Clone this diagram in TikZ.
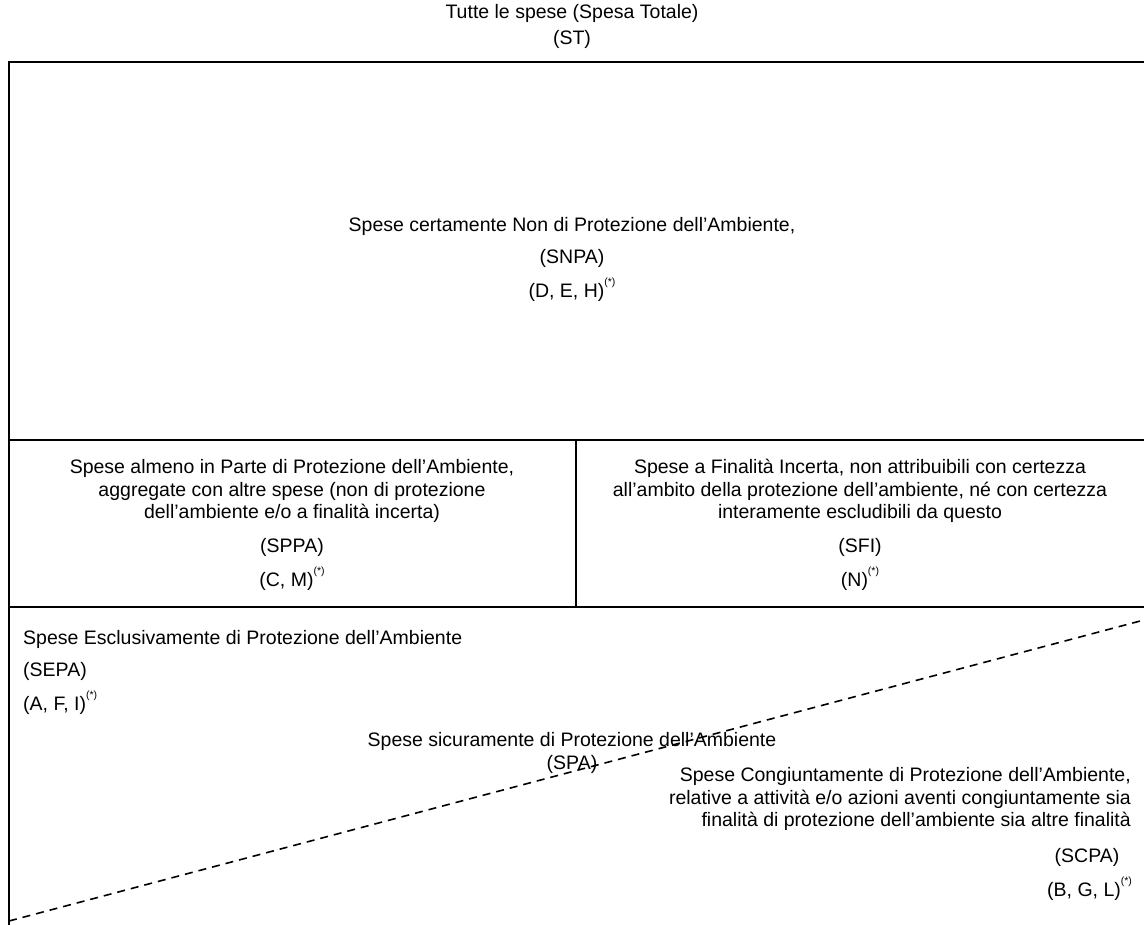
\documentclass[tikz,border=0pt]{standalone}
\usepackage{fontspec}
\setmainfont{Liberation Sans}
\newcommand{\nota}{\raisebox{0.6em}{\fontsize{10.5}{10.5}\selectfont(*)}}
\tikzset{
  lbl/.style={inner sep=0pt, font=\fontsize{19.5}{22.4}\selectfont},
  frame/.style={line width=2pt, line cap=rect},
  divide/.style={line width=1.6pt, dash pattern=on 8pt off 6pt}
}
\begin{document}
\begin{tikzpicture}[x=1pt,y=-1pt]
\useasboundingbox (0,0) rectangle (1144,925);
% frame
\draw[frame] (1144,62) -- (9,62) -- (9,925);
\draw[frame] (9,440) -- (1144,440);
\draw[frame] (9,607) -- (1144,607);
\draw[frame] (576,440) -- (576,607);
% dashed separator
\coordinate (dl) at (9,921);
\coordinate (dr) at (1144,620);
\draw[divide] (dl) -- (dr);
% texts
\node[lbl, align=center] (st) at (572,26) {Tutte le spese (Spesa Totale)\\[3.6pt](ST)};
\node[lbl, align=center] (snpa) at (572,259) {Spese certamente Non di Protezione dell’Ambiente,\\[9.6pt](SNPA)\\[9.6pt](D, E, H)\nota};
\node[lbl, align=center] (sppa) at (292,525) {Spese almeno in Parte di Protezione dell’Ambiente,\\aggregate con altre spese (non di protezione\\dell’ambiente e/o a finalità incerta)\\[11.6pt](SPPA)\\[9.6pt](C, M)\nota};
\node[lbl, align=center] (sfi) at (860,525) {Spese a Finalità Incerta, non attribuibili con certezza\\all’ambito della protezione dell’ambiente, né con certezza\\interamente escludibili da questo\\[11.6pt](SFI)\\[9.6pt](N)\nota};
\node[lbl, align=left, anchor=west] (sepa) at (23,672) {Spese Esclusivamente di Protezione dell’Ambiente\\[9.6pt](SEPA)\\[9.6pt](A, F, I)\nota};
\node[lbl, align=center] (spa) at (572,753) {Spese sicuramente di Protezione dell’Ambiente\\(SPA)};
\node[lbl, align=right, anchor=east] (scpa) at (1131,799) {Spese Congiuntamente di Protezione dell’Ambiente,\\relative a attività e/o azioni aventi congiuntamente sia\\finalità di protezione dell’ambiente sia altre finalità};
\node[lbl] (scpac) at (1087,857) {(SCPA)};
\node[lbl, anchor=west] (scpal) at (1047,889) {(B, G, L)\nota};
\end{tikzpicture}
\end{document}
